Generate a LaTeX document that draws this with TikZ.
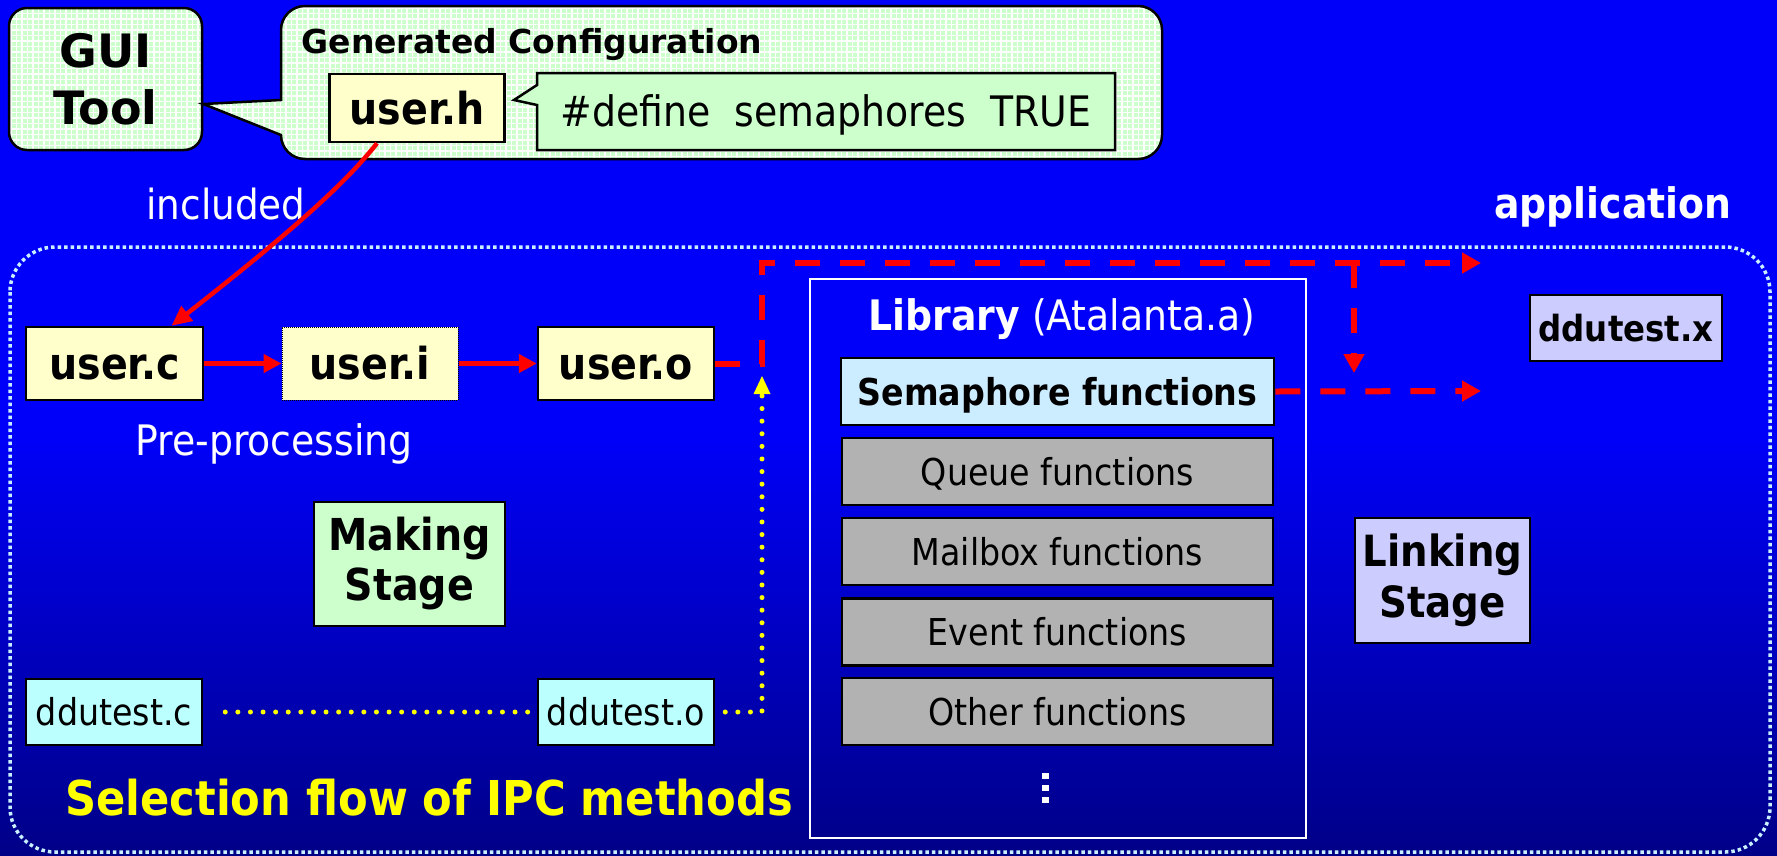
\documentclass[tikz,border=0pt]{standalone}
\usepackage{fontspec}
\setmainfont{DejaVu Sans Condensed}
\newfontfamily\widefont{DejaVu Sans}
\usetikzlibrary{arrows.meta,calc,patterns.meta}

\definecolor{bgtop}{RGB}{0,0,250}
\definecolor{bgbot}{RGB}{0,0,135}
\definecolor{cfgreen}{RGB}{204,255,204}
\definecolor{fileyellow}{RGB}{255,255,204}
\definecolor{filecyan}{RGB}{187,255,255}
\definecolor{semblue}{RGB}{204,236,255}
\definecolor{fgray}{RGB}{178,178,178}
\definecolor{lavender}{RGB}{204,204,255}
\definecolor{framecyan}{RGB}{200,240,255}
\definecolor{arrowred}{RGB}{255,0,0}
\definecolor{dotyellow}{RGB}{255,255,0}

\tikzset{
  gridfill/.style={preaction={fill=cfgreen},
    preaction={pattern={Hatch[angle=0,distance=5.5pt,line width=1.1pt]}, pattern color=white}},
  filebox/.style={draw=black, line width=2.5pt, inner sep=0pt},
  bigbold/.style={font=\bfseries\fontsize{44}{50}\selectfont},
  boldline/.style={bigbold, text height=32pt, text depth=0pt},
  midbold/.style={font=\bfseries\fontsize{37}{44}\selectfont, text height=27pt, text depth=0pt},
  plain/.style={font=\fontsize{37}{44}\selectfont, text height=27pt, text depth=0pt},
  redarrow/.style={draw=arrowred, line width=5.5pt, -{Triangle[length=18pt,width=18pt]}},
  reddash/.style={draw=arrowred, line width=6pt, dash pattern=on 25pt off 20pt,
    -{Triangle[length=19pt,width=20pt]}},
  yellowdots/.style={draw=dotyellow, line width=5pt, line cap=round, dash pattern=on 0pt off 12.6pt},
}

\begin{document}
\begin{tikzpicture}[x=1pt,y=-1pt]
% background
\useasboundingbox (0,0) rectangle (1777,855);
\fill[bgtop] (0,0) rectangle (1777,430);
\shade[top color=bgtop, bottom color=bgbot] (0,429) rectangle (1777,855);

% application frame
\draw[framecyan, line width=3.5pt, dash pattern=on 3.5pt off 3pt, rounded corners=45pt]
  (10,247) rectangle (1770,852);

% GUI tool
\node[gridfill, filebox, rounded corners=18pt, minimum width=193pt, minimum height=142pt,
  font=\widefont\bfseries\fontsize{46}{57}\selectfont, align=center] (gui) at (105.5,79) {GUI\\Tool};

% configuration callout
\path[gridfill, draw=black, line width=2.5pt]
  (281,100) -- (gui.east |- 0,104) -- (281,135)
  .. controls (281,148.3) and (291.7,159) .. (305,159)
  -- (1138,159) .. controls (1151.3,159) and (1162,148.3) .. (1162,135)
  -- (1162,30) .. controls (1162,16.7) and (1151.3,6) .. (1138,6)
  -- (305,6) .. controls (291.7,6) and (281,16.7) .. (281,30) -- cycle;
\node[anchor=base west, font=\widefont\bfseries\fontsize{33}{38}\selectfont] (gencfg) at (298,53) {Generated Configuration};

\node[filebox, fill=fileyellow, minimum width=175pt, minimum height=68pt, boldline] (uh) at (417,108) {user.h};

% #define note with its pointer
\path[fill=cfgreen, draw=black, line width=2.5pt]
  (537,73) -- (1115,73) -- (1115,150) -- (537,150) -- (537,105) -- (514,100) -- (537,85) -- cycle;
\node[font=\fontsize{42}{48}\selectfont, text height=30pt, text depth=0pt] (dfn) at (826,111.5) {\#define\ \ semaphores\ \ TRUE};

% labels
\node[white, font=\fontsize{41.5}{48}\selectfont] (incl) at (226,204) {included};
\node[white, anchor=base east, font=\bfseries\fontsize{42}{48}\selectfont] (app) at (1735,218) {application};

% making stage files
\node[filebox, fill=fileyellow, minimum width=177pt, minimum height=73pt, boldline] (uc) at (114.5,363.5) {user.c};
\node[draw=black, line width=1pt, densely dotted, inner sep=0pt, fill=fileyellow,
  minimum width=176pt, minimum height=73pt, boldline] (ui) at (370,363.5) {user.i};
\node[filebox, fill=fileyellow, minimum width=176pt, minimum height=73pt, boldline] (uo) at (626,363.5) {user.o};
\node[white, font=\fontsize{42}{48}\selectfont] (pre) at (274,444) {Pre-processing};
\node[filebox, fill=cfgreen, minimum width=191pt, minimum height=124pt, bigbold, align=center] (mk) at (409.5,564) {Making\\Stage};

\node[filebox, fill=filecyan, minimum width=176pt, minimum height=66pt, plain] (ddc) at (114,712) {ddutest.c};
\node[filebox, fill=filecyan, minimum width=176pt, minimum height=66pt, plain] (ddo) at (626,712) {ddutest.o};

\node[dotyellow, anchor=base west, font=\bfseries\fontsize{48}{54}\selectfont] (title) at (62,815) {Selection flow of IPC methods};

% library
\node[draw=white, line width=2pt, minimum width=496pt, minimum height=559pt] (lib) at (1058,558.5) {};
\node[white, anchor=base, font=\fontsize{42}{48}\selectfont] (libname) at (1062,330) {\textbf{Library} (Atalanta.a)};
\node[filebox, fill=semblue, minimum width=433pt, minimum height=67pt, midbold] (sem) at (1057.5,391.5) {Semaphore functions};
\node[filebox, fill=fgray, minimum width=431pt, minimum height=67pt, plain] (que) at (1057.5,471.5) {Queue functions};
\node[filebox, fill=fgray, minimum width=431pt, minimum height=67pt, plain] (mbx) at (1057.5,551.5) {Mailbox functions};
\node[filebox, fill=fgray, minimum width=431pt, minimum height=67pt, plain] (evt) at (1057.5,632) {Event functions};
\node[filebox, fill=fgray, minimum width=431pt, minimum height=67pt, plain] (oth) at (1057.5,711.5) {Other functions};
\foreach \yy in {776,788,800} \fill[white] (1041.5,\yy-3) rectangle (1048.5,\yy+3);

% linking stage
\node[filebox, fill=lavender, minimum width=192pt, minimum height=66pt,
  font=\bfseries\fontsize{36}{44}\selectfont, text height=26pt, text depth=0pt] (ddx) at (1626,328) {ddutest.x};
\node[filebox, fill=lavender, minimum width=175pt, minimum height=125pt, align=center,
  font=\bfseries\fontsize{43}{51}\selectfont] (lnk) at (1442.5,580.5) {Linking\\Stage};

% connectors
\draw[draw=arrowred, line width=4.5pt, -{Triangle[length=20pt,width=18pt]}]
  ([xshift=-40pt]uh.south) .. controls (348,180) and (300,225) .. ([xshift=57pt]uc.north);
\draw[redarrow] (uc) -- (ui);
\draw[redarrow] (ui) -- (uo);

\coordinate (tjoin) at (762,263);
\coordinate (tend) at (1481,263);
\coordinate (drop) at (1354,263);
\coordinate (dropend) at (1354,373);
\coordinate (semend) at (1481,391);
\coordinate (yend) at (762,376);

\draw[reddash] (uo.east) -- (uo.east -| tjoin) -- (tjoin) -- (tend);
\draw[reddash] (drop) -- (dropend);
\draw[reddash] (sem.east) -- (semend);

\draw[yellowdots, shorten <=22pt] (ddc) -- (ddo);
\draw[yellowdots, shorten <=10pt] (ddo.east) -- (ddo.east -| yend) -- ([yshift=-16pt]yend);
\fill[dotyellow] (yend) -- ++(-8.5,18) -- ++(17,0) -- cycle;
\end{tikzpicture}
\end{document}
